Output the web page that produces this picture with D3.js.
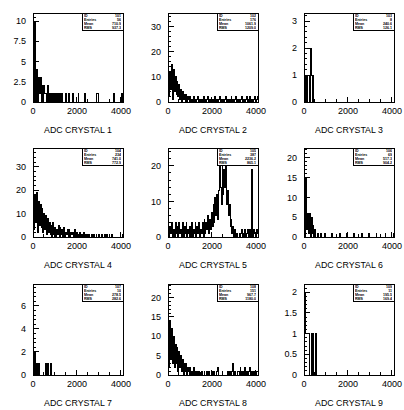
<!DOCTYPE html>
<html>
<head>
<meta charset="utf-8">
<script src="https://cdnjs.cloudflare.com/ajax/libs/d3/7.8.5/d3.min.js"></script>
<style>
body{margin:0;background:#fff;}
svg{display:block;}
text{font-family:"Liberation Sans",Arial,Helvetica,sans-serif;fill:#000;}
.statbox{opacity:0.99;}
</style>
</head>
<body>
<script>
// ADC spectra, 100 bins over 0..4096 (counts per bin)
var nBins = 100, adcMax = 4096;
var crystal1 = [10,0,10,0,4,0,3,1,3,0, 2,0,2,1,1,0,2,0,1,0, 1,0,1,0,1,0,1,0,1,0, 1,0,1,0,0,0,1,0,0,1,
  0,0,0,0,1,0,0,0,0,0, 1,0,0,0,0,0,0,1,0,0, 0,0,0,0,0,0,0,0,0,0, 0,1,1,0,0,0,0,0,0,0,
  0,0,0,0,0,0,0,0,0,1, 0,0,0,0,0,0,0,0,1,0];
var crystal2 = [16,2,12,5,15,1,13,4,10,3, 8,2,7,1,5,0,4,1,3,0, 3,0,2,1,2,0,1,0,2,0, 1,0,1,2,0,1,0,1,0,2,
  0,1,0,1,2,0,1,0,1,0, 1,0,2,0,1,0,1,2,0,1, 0,1,0,1,2,0,1,0,1,0, 2,0,1,0,1,2,0,1,0,1,
  0,1,2,0,1,0,1,2,0,1, 0,2,0,1,0,1,2,0,1,2];
var crystal3 = [1,0,1,0,1,1,0,2,1,0,1,0,0,0,0,0,0,0,0,0, 0,0,0,0,0,0,0,0,0,0, 0,0,0,0,0,0,0,0,0,0,
  0,0,0,0,0,0,0,0,0,0, 0,0,0,0,0,0,0,0,0,0, 0,0,0,0,0,0,0,0,0,0, 0,0,0,0,0,0,0,0,0,0,
  0,0,0,0,0,0,0,0,0,0, 0,0,0,0,0,0,0,0,0,0];
var crystal4 = [20,3,18,6,19,2,15,5,14,4, 12,2,10,3,9,1,8,2,6,1, 5,0,6,1,4,0,3,1,5,0, 4,1,3,0,4,0,2,1,3,0,
  3,0,2,1,2,0,3,0,2,0, 1,0,2,0,1,0,2,0,1,0, 1,0,1,0,0,1,0,1,0,0, 1,0,0,1,0,0,1,0,0,1,
  0,0,1,0,0,0,0,1,0,0, 0,0,0,0,0,0,0,0,0,1];
var crystal5 = [4,0,3,1,4,0,2,0,4,1, 3,0,4,1,2,0,4,0,3,1, 4,0,2,1,3,0,4,0,2,1, 4,0,3,1,4,0,2,1,4,0,
  5,1,4,2,6,1,5,2,7,3, 9,4,11,6,12,5,13,20,14,9, 20,12,19,14,20,9,13,6,9,3, 5,1,3,0,2,0,1,0,0,1,
  0,1,2,0,1,2,0,1,2,0, 1,2,0,19,0,2,1,0,2,1];
var crystal6 = [16,0,15,2,6,1,6,0,5,1, 3,0,2,0,0,1,0,0,1,0, 0,0,0,1,0,0,0,0,0,0, 0,1,0,0,0,0,0,0,0,1,
  0,0,0,0,0,0,0,1,0,0, 0,0,0,0,0,1,0,0,0,0, 0,0,0,0,1,0,0,0,0,0, 0,0,1,0,0,0,0,0,0,0,
  1,0,0,0,0,0,0,0,0,0, 1,0,0,0,0,0,0,0,0,1];
var crystal7 = [3,0,2,0,1,0,1,0,0,0, 0,0,0,0,1,0,1,0,0,1, 0,0,0,0,0,0,0,0,0,0, 0,0,0,0,0,0,0,0,0,0,
  0,0,0,0,0,0,0,0,0,0, 0,0,0,0,0,0,0,0,0,0, 0,0,0,0,0,0,0,0,0,0, 0,0,0,0,0,0,0,0,0,0,
  0,0,0,0,0,0,0,0,0,0, 0,0,0,0,0,0,0,0,0,0];
var crystal8 = [15,2,14,4,12,3,10,2,8,3, 7,1,6,2,5,1,4,0,3,1, 3,0,2,1,2,0,1,0,2,0, 1,0,1,0,1,0,0,1,0,0,
  1,0,0,1,0,1,0,0,0,1, 0,1,0,0,1,2,0,0,0,0, 1,0,0,0,0,0,1,0,1,0, 0,1,3,0,1,0,0,1,1,0,
  2,0,1,0,1,2,0,1,0,1, 1,2,0,1,0,1,0,0,1,1];
var crystal9 = [2,2,1,1,1,1,0,0,1,0, 1,0,0,1,0,0,0,0,0,0, 0,0,0,0,0,0,0,0,0,0, 0,0,0,0,0,0,0,0,0,0,
  0,0,0,0,0,0,0,0,0,0, 0,0,0,0,0,0,0,0,0,0, 0,0,0,0,0,0,0,0,0,0, 0,0,0,0,0,0,0,0,0,0,
  0,0,0,0,0,0,0,0,0,0, 0,0,0,0,0,0,0,0,0,0];

var spectra = [crystal1,crystal2,crystal3,crystal4,crystal5,crystal6,crystal7,crystal8,crystal9];
var titles = ["ADC CRYSTAL 1","ADC CRYSTAL 2","ADC CRYSTAL 3","ADC CRYSTAL 4","ADC CRYSTAL 5",
  "ADC CRYSTAL 6","ADC CRYSTAL 7","ADC CRYSTAL 8","ADC CRYSTAL 9"];
var histIds = ["101","102","103","104","105","106","107","108","109"];
var yMax = [11, 35.5, 3.3, 38, 25, 22.5, 7.9, 23.5, 2.2];
var yStep = [2.5, 10, 1, 10, 10, 5, 2, 5, 0.5];
var xMajor = [0, 2000, 4000];
var xMinorStep = 500;

// pad layout
var colX = [33, 168, 304], rowY = [13, 148, 284], rowH = [89, 89, 91], frameW = 90;

var svg = d3.select("body").append("svg")
  .attr("width", 404).attr("height", 410);

function fmt(v){ return String(Math.round(v*100)/100); }

function stats(counts){
  var bw = adcMax/nBins, n = 0, s = 0, s2 = 0;
  counts.forEach(function(c,i){
    var xc = (i+0.5)*bw;
    n += c; s += c*xc; s2 += c*xc*xc;
  });
  var mean = n ? s/n : 0;
  var rms = n ? Math.sqrt(Math.max(0, s2/n - mean*mean)) : 0;
  return {n:n, mean:mean, rms:rms};
}

spectra.forEach(function(counts, k){
  var col = k % 3, row = Math.floor(k/3);
  var h = rowH[row];
  var g = svg.append("g").attr("transform", "translate(" + colX[col] + "," + rowY[row] + ")");

  var x = d3.scaleLinear().domain([0, adcMax]).range([0, frameW]);
  var y = d3.scaleLinear().domain([0, yMax[k]]).range([h, 0]);

  // histogram outline (step line, no fill, like ROOT default)
  var bw = adcMax/nBins;
  var pts = [[0, 0]];
  counts.forEach(function(c, i){
    pts.push([i*bw, c]);
    pts.push([(i+1)*bw, c]);
  });
  pts.push([adcMax, 0]);
  g.append("path")
    .attr("d", d3.line().x(function(d){ return x(d[0]); }).y(function(d){ return y(d[1]); })(pts))
    .attr("fill", "none").attr("stroke", "#000").attr("stroke-width", 1)
    .attr("shape-rendering", "crispEdges");

  // frame
  g.append("rect").attr("x", 0).attr("y", 0).attr("width", frameW).attr("height", h)
    .attr("fill", "none").attr("stroke", "#000").attr("stroke-width", 1)
    .attr("shape-rendering", "crispEdges");

  // y ticks (inside, left side)
  var step = yStep[k], minor = step/5;
  var yt = [];
  for (var v = 0; v <= yMax[k] + 1e-9; v += minor) yt.push(Math.round(v*1000)/1000);
  yt.forEach(function(v){
    var isMajor = Math.abs(v/step - Math.round(v/step)) < 1e-6;
    g.append("line").attr("x1", 0).attr("x2", isMajor ? 5.5 : 2.8)
      .attr("y1", y(v)).attr("y2", y(v))
      .attr("stroke", "#000").attr("shape-rendering", "crispEdges");
    if (isMajor) {
      g.append("text").attr("x", -7).attr("y", y(v)).attr("dy", "0.35em")
        .attr("text-anchor", "end").style("font-size", "9px").text(fmt(v));
    }
  });

  // x ticks (inside, bottom)
  for (var a = 0; a <= 4000; a += xMinorStep) {
    var isMaj = xMajor.indexOf(a) >= 0;
    g.append("line").attr("x1", x(a)).attr("x2", x(a))
      .attr("y1", h).attr("y2", h - (isMaj ? 5.5 : 2.8))
      .attr("stroke", "#000").attr("shape-rendering", "crispEdges");
  }
  xMajor.forEach(function(a){
    g.append("text").attr("x", x(a)).attr("y", h + 12)
      .attr("text-anchor", "middle").style("font-size", "9px").text(fmt(a));
  });

  // stats box
  var st = stats(counts);
  var bx = frameW - 41, bwid = 41, bh = 17;
  g.append("rect").attr("x", bx).attr("y", 0).attr("width", bwid).attr("height", bh)
    .attr("fill", "#fff").attr("stroke", "#000").attr("stroke-width", 1)
    .attr("shape-rendering", "crispEdges");
  g.append("line").attr("x1", bx + 1).attr("x2", frameW).attr("y1", bh + 0.5).attr("y2", bh + 0.5)
    .attr("stroke", "#000").attr("stroke-width", 1.5).attr("shape-rendering", "crispEdges");
  var rowsTxt = [["ID", histIds[k]], ["Entries", String(st.n)],
    ["Mean", st.mean.toFixed(1)], ["RMS", st.rms.toFixed(1)]];
  var sg = g.append("g").attr("class", "statbox")
    .attr("transform", "translate(" + bx + ",0) scale(0.5)");
  rowsTxt.forEach(function(r, i){
    var ty = 8 + i*7.8;
    sg.append("text").attr("x", 4).attr("y", ty).style("font-size", "7.2px")
      .style("font-weight", "bold").text(r[0]);
    sg.append("text").attr("x", bwid*2 - 4).attr("y", ty).attr("text-anchor", "end")
      .style("font-size", "7.2px").style("font-weight", "bold").text(r[1]);
  });

  // pad title
  g.append("text").attr("x", frameW/2).attr("y", h + 31)
    .attr("text-anchor", "middle").style("font-size", "8.8px").text(titles[k]);
});
</script>
</body>
</html>
